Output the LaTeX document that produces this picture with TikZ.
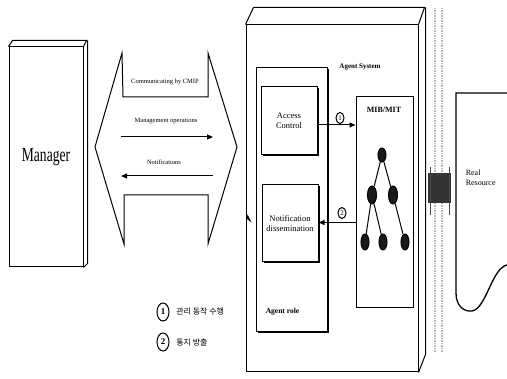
\documentclass[tikz,border=0pt]{standalone}
\usepackage{fontspec}
\setmainfont{Liberation Serif}
\newfontfamily\krfont{Noto Sans CJK KR}
\usetikzlibrary{positioning, arrows.meta, shapes.geometric, calc, shadows}

\begin{document}
\begin{tikzpicture}[x=1pt, y=-1pt, line width=1pt,
  box/.style={draw, line width=1pt, inner sep=0pt, align=center},
  shbox/.style={box, fill=white, drop shadow={shadow xshift=1.5pt, shadow yshift=-1.5pt, fill=black, opacity=1}},
  lbl/.style={font=\fontsize{6.5}{7}\selectfont, inner sep=1pt},
  arr/.style={-{Triangle[length=6pt, width=5pt]}, line width=1pt},
  leaf/.style={ellipse, fill=black!90, draw=black, minimum width=8pt, minimum height=16pt, inner sep=0pt},
  num/.style={ellipse, draw, line width=1pt, inner sep=0pt, minimum width=8pt, minimum height=11pt, font=\fontsize{7}{7}\selectfont},
  bignum/.style={ellipse, draw, line width=1pt, inner sep=0pt, minimum width=12pt, minimum height=18pt, font=\fontsize{9}{9}\selectfont\bfseries}
]
  \useasboundingbox (0,0) rectangle (507,379);

  % manager
  \node[box, minimum width=74pt, minimum height=220pt] (mgr) at (46,157)
    {\fontsize{20}{22}\selectfont\scalebox{0.68}[1]{Manager}};
  \draw (mgr.north west) -- ++(4,-6) -- ++(74,0) -- (mgr.north east);
  \draw (mgr.north east) ++(4,-6) -- ($(mgr.south east)+(4,-4)$) -- (mgr.south east);

  % CMIP double arrow
  \draw (122,53) -- (123,97) -- (208,97) -- (208,53) -- (237,147)
    -- (208,244) -- (208,195) -- (124,195) -- (124,244) -- (95,147) -- cycle;
  \node[lbl] (cmip) at (165,82) {Communicating by CMIP};
  \node[lbl] (mops) at (166,121) {Management operations};
  \node[lbl] (nots) at (164,162) {Notifications};
  \coordinate (mopsA) at (121,137);
  \coordinate (mopsB) at (213,137);
  \coordinate (notsA) at (213,176);
  \coordinate (notsB) at (121,176);
  \draw[arr] (mopsA) -- (mopsB);
  \draw[arr] (notsA) -- (notsB);

  % agent system
  \node[box, minimum width=172pt, minimum height=347pt] (agent) at (332,198.5) {};
  \draw (agent.north west) -- ++(8,-17) -- ++(171,0) -- (agent.north east);
  \draw (agent.north east) ++(7,-17) -- ++(0,347) -- (agent.south east);
  \fill ($(agent.west)+(1,20)$) -- ++(5,4) -- ++(-4,-8) -- cycle;
  \node[font=\fontsize{7}{8}\selectfont\bfseries] (agtitle) at (360,67) {Agent System};

  \node[shbox, minimum width=71pt, minimum height=264pt] (role) at (291.5,200) {};
  \node[font=\fontsize{7.5}{8}\selectfont\bfseries, anchor=west] (roletxt) at (262,312) {Agent role};

  \node[shbox, minimum width=56pt, minimum height=68pt, font=\fontsize{8.5}{10}\selectfont]
    (acc) at (289,121) {Access\\Control};
  \node[shbox, minimum width=56pt, minimum height=77pt, font=\fontsize{8.5}{10}\selectfont]
    (notif) at (290,223.5) {Notification\\dissemination};

  \node[box, minimum width=57pt, minimum height=211pt] (mib) at (384.5,202.5) {};
  \node[font=\fontsize{8}{9}\selectfont\bfseries] (mibtxt) at (384,110) {MIB/MIT};

  % MIT tree
  \node[leaf, minimum height=14pt] (root) at (382,155) {};
  \node[leaf, minimum width=9pt, minimum height=18pt] (n1) at (372,195) {};
  \node[leaf, minimum width=9pt, minimum height=18pt] (n2) at (393,195) {};
  \node[leaf] (n11) at (365,242) {};
  \node[leaf] (n12) at (383,242) {};
  \node[leaf] (n21) at (405,242) {};
  \draw (root) -- (n1);
  \draw (root) -- (n2);
  \draw (n1) -- (n11);
  \draw (n1) -- (n12);
  \draw (n2) -- (n21);

  % flows
  \draw[arr] ([yshift=-4pt]acc.east) -- ([yshift=-4pt]acc.east -| mib.west);
  \node[num] (c1) at (340,118) {1};
  \draw[arr] ([yshift=1pt]notif.east -| mib.west) -- ([yshift=1pt]notif.east);
  \node[num] (c2) at (342,213) {2};

  % link to resource
  \draw[gray!55, line width=1.5pt, densely dotted] (435,8) -- (435,352);
  \draw[gray!55, line width=1.5pt, densely dotted] (442,8) -- (442,352);
  \node[fill=black!80, minimum width=23pt, minimum height=30pt, inner sep=0pt] (link) at (439.5,188) {};
  \draw[black!70, line width=0.6pt] (430,167) -- (430,215);
  \draw[black!70, line width=0.6pt] (449,167) -- (449,215);

  % real resource
  \draw[line width=1.3pt] (507,93) -- (456,93) -- (456,293)
    .. controls (456,306) and (464,312) .. (472,311)
    .. controls (486,309) and (492,268) .. (507,265);
  \node[font=\fontsize{8}{10}\selectfont, align=left, anchor=north west] (res) at (462,166) {Real\\Resource};

  % legend
  \node[bignum] (l1) at (163,312) {1};
  \node[right=3pt of l1, font=\krfont\fontsize{8}{9}\selectfont] (l1txt) {관리 동작 수행};
  \node[bignum] (l2) at (163,342) {2};
  \node[right=3pt of l2, font=\krfont\fontsize{8}{9}\selectfont] (l2txt) {통지 방출};
\end{tikzpicture}
\end{document}
